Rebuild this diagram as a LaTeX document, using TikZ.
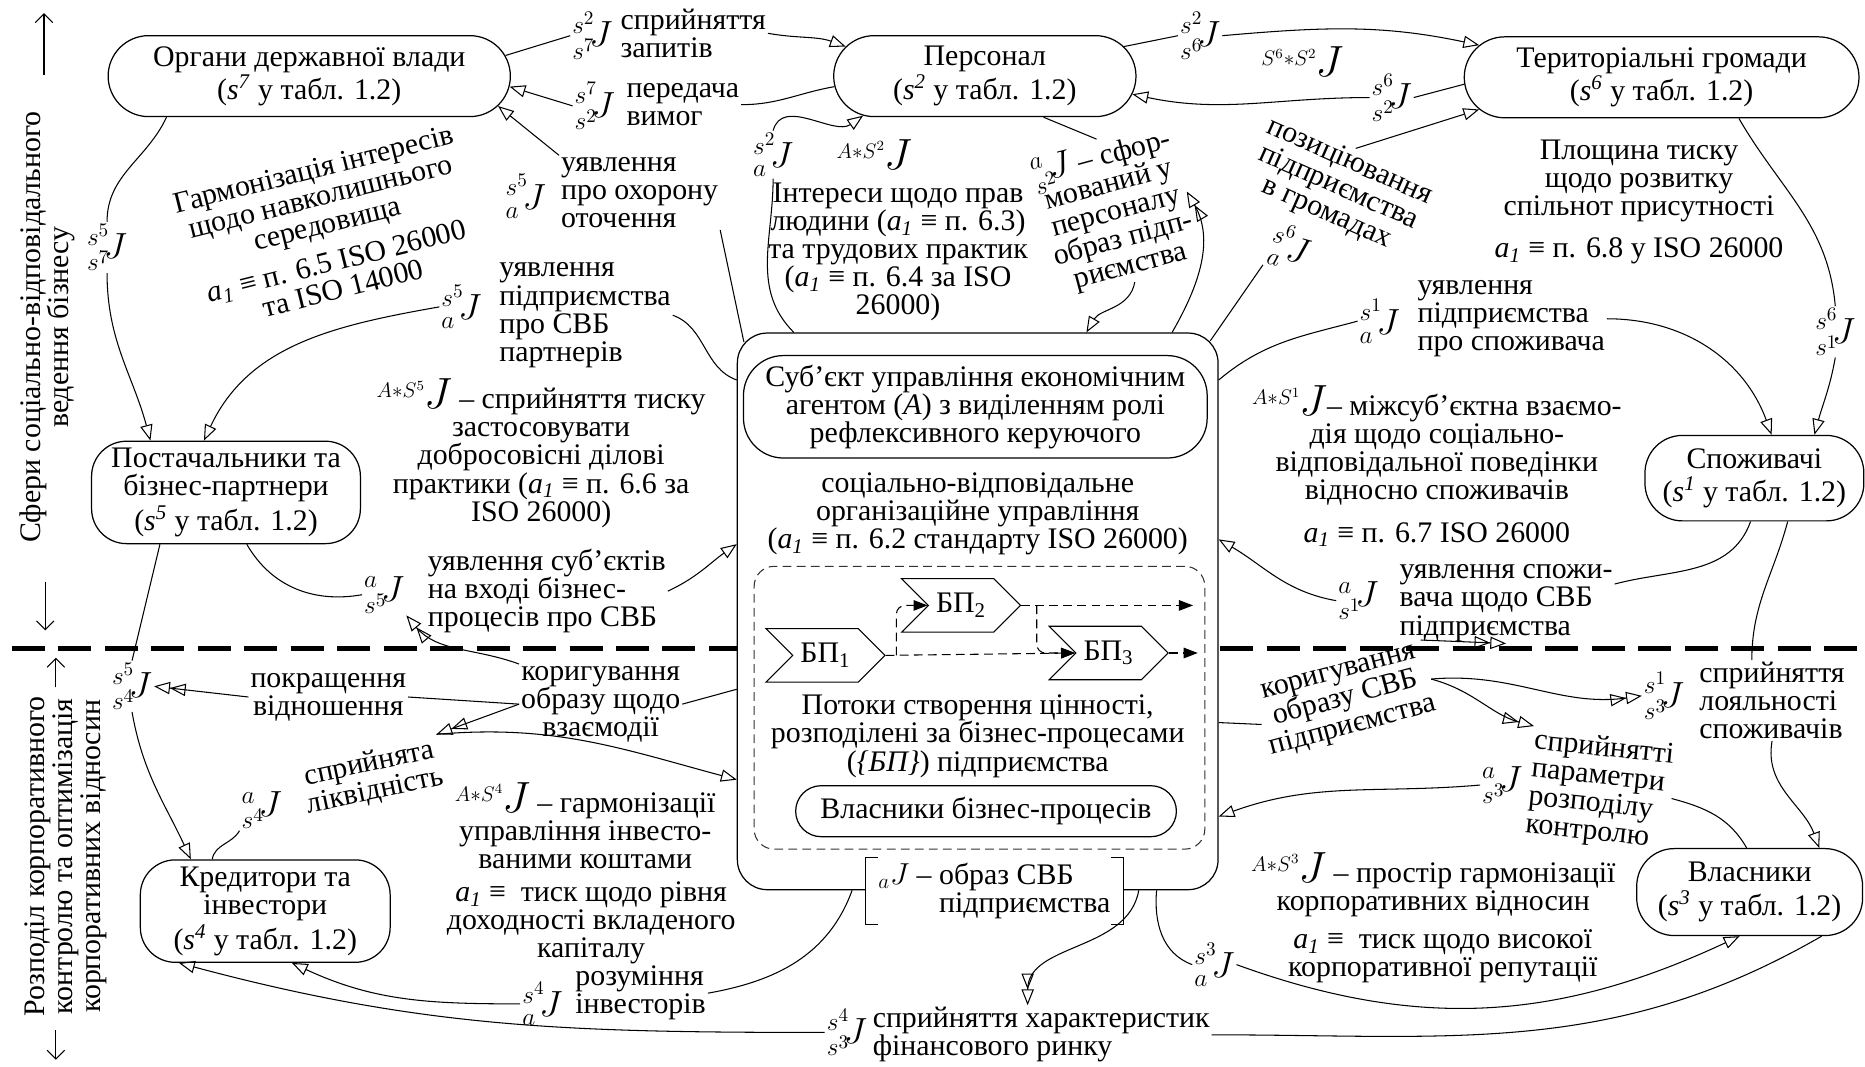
\documentclass[tikz,border=0pt]{standalone}
\usepackage{amsmath}
\usepackage{fontspec}
\setmainfont{Liberation Serif}
\usetikzlibrary{arrows.meta,positioning,calc,shapes.misc,shapes.symbols}
\newcommand{\fnt}{\fontsize{17}{16}\selectfont\lineskiplimit=-20pt}
\newcommand{\Jm}[2]{{\fontsize{21}{21}\selectfont${}^{#1}_{#2}\!J$}}
\newcommand{\Ja}[1]{$^{A\ast S^{#1}}$\kern-1pt{\fontsize{24}{20}\selectfont$J$}}
\newcommand{\sv}[1]{\textit{s}\textsuperscript{\textit{#1}}}
\newcommand{\aone}{\textit{a}\textsubscript{\textit{1}}}

\begin{document}
\begin{tikzpicture}[x=0.0238cm, y=-0.0238cm, font=\fnt,
    ent/.style={draw, rounded rectangle, align=center, inner sep=2pt, line width=0.7pt},
    ebox/.style={draw, rounded corners=0.7cm, align=center, inner sep=2pt, line width=0.7pt},
    lbl/.style={align=center, inner sep=1pt},
    lbll/.style={align=left, inner sep=1pt},
    conn/.style={line width=0.6pt},
    arr/.style={conn, -{Triangle[open, length=9pt, width=7pt]}},
    darr/.style={conn, -{Triangle[open, length=9pt, width=7pt] Triangle[open, length=9pt, width=7pt]}},
    sidearr/.style={line width=0.6pt, -{Straight Barb[length=5pt, width=10pt]}},
    bp/.style={draw, fill=white, signal, signal from=west, signal to=east, minimum width=2.38cm, minimum height=1.07cm, inner sep=1pt, line width=0.6pt},
    flow/.style={line width=0.6pt, dash pattern=on 5pt off 3pt, rounded corners=5pt, -{Triangle[length=8pt, width=6pt]}}
  ]
  \useasboundingbox (0,0) rectangle (1568,897);

  % separator of the two spheres
  \draw[line width=2.6pt, dash pattern=on 0.66cm off 0.27cm] (10,545) -- (1568,545);

  % side captions
  \node[lbl, rotate=90] (side1) at (40,275) {Сфери соціально-відповідального\\ведення бізнесу};
  \node[lbl, rotate=90] (side2) at (55,720) {Розподіл корпоративного\\контролю та оптимізація\\корпоративних відносин};
  \coordinate (u1a) at (37,63); \coordinate (u1b) at (37,11);
  \coordinate (d1a) at (38,489); \coordinate (d1b) at (38,530);
  \coordinate (u2a) at (47,578); \coordinate (u2b) at (47,553);
  \coordinate (d2a) at (47,866); \coordinate (d2b) at (47,891);
  \draw[sidearr] (u1a) -- (u1b);
  \draw[sidearr] (d1a) -- (d1b);
  \draw[sidearr] (u2a) -- (u2b);
  \draw[sidearr] (d2a) -- (d2b);

  % stakeholders
  \node[ent, minimum width=8.19cm, minimum height=1.62cm] (org) at (260,64) {Органи державної влади\\[3pt](\sv{7} у табл. 1.2)};
  \node[ent, minimum width=6.19cm, minimum height=1.62cm] (pers) at (828,64) {Персонал\\[3pt](\sv{2} у табл. 1.2)};
  \node[ent, minimum width=8.04cm, minimum height=1.62cm] (ter) at (1397,65) {Територіальні громади\\[3pt](\sv{6} у табл. 1.2)};
  \node[ebox, minimum width=5.38cm, minimum height=2.05cm] (post) at (190,414) {Постачальники та\\бізнес-партнери\\[4pt](\sv{5} у табл. 1.2)};
  \node[ebox, minimum width=5.0cm, minimum height=2.05cm] (kred) at (223,766) {Кредитори та\\інвестори\\[4pt](\sv{4} у табл. 1.2)};
  \node[ebox, rounded corners=0.75cm, minimum width=4.38cm, minimum height=1.71cm] (spoz) at (1475,402) {Споживачі\\[3pt](\sv{1} у табл. 1.2)};
  \node[ebox, rounded corners=0.75cm, minimum width=4.52cm, minimum height=1.74cm] (vlas) at (1471,750) {Власники\\[3pt](\sv{3} у табл. 1.2)};

  % management subject
  \node[draw, fill=white, rounded corners=0.6cm, minimum width=9.62cm, minimum height=11.14cm, line width=0.7pt] (subj) at (822,514) {};
  \node[ebox, rounded corners=0.8cm, minimum width=9.28cm, minimum height=2.05cm] (agent) at (820,342) {Суб'єкт управління економічним\\агентом (\textit{A}) з виділенням ролі\\рефлексивного керуючого};
  \node[lbl] (sou) at (822,432) {соціально-відповідальне\\організаційне управління\\(\aone\ ≡ п. 6.2 стандарту ISO 26000)};
  \node[draw, black!80, dash pattern=on 5pt off 3pt, rounded corners=0.4cm, minimum width=9.02cm, minimum height=5.66cm, line width=0.6pt] (flows) at (823.5,595) {};
  \node[bp] (bp1) at (694,551) {БП\textsubscript{1}};
  \node[bp] (bp2) at (808,509) {БП\textsubscript{2}};
  \node[bp] (bp3) at (932,549) {БП\textsubscript{3}};
  \coordinate (out2) at (1003,509);
  \coordinate (out3) at (1007,549);
  \draw[flow] (bp1.east) -- (bp3.west);
  \draw[flow] ($(bp1.east)+(9,0)$) |- (bp2.west);
  \draw[flow] (bp2.east) -- (out2);
  \draw[flow] ($(bp2.east)+(13,0)$) |- (bp3.west);
  \draw[flow] (bp3.east) -- (out3);
  \node[lbl] (pot) at (822,619) {Потоки створення цінності,\\розподілені за бізнес-процесами\\(\textit{\{БП\}}) підприємства};
  \node[ent, minimum width=7.76cm, minimum height=1.02cm] (vbp) at (829,682) {Власники бізнес-процесів};
  \node[fill=white, align=left, inner xsep=7pt, inner ysep=3pt] (obr) at (836,749) {${}_{a}J$ -- образ СВБ\\\hphantom{${}_{a}J$ -- }підприємства};
  \draw[line width=0.6pt] ([xshift=7pt]obr.north west) -- (obr.north west) -- (obr.south west) -- ([xshift=7pt]obr.south west);
  \draw[line width=0.6pt] ([xshift=-7pt]obr.north east) -- (obr.north east) -- (obr.south east) -- ([xshift=-7pt]obr.south east);

  % labels, upper sphere
  \node[lbl] (j1) at (498,30) {\Jm{s^2}{s^7}};
  \node[lbll, anchor=west] (t1) at (520,28) {сприйняття\\запитів};
  \node[lbl] (j2) at (500,89) {\Jm{s^7}{s^2}};
  \node[lbll, anchor=west] (t2) at (525,88) {передача\\вимог};
  \node[lbl] (j3) at (442,165) {\Jm{s^5}{a}};
  \node[lbll, anchor=west] (t3) at (470,162) {уявлення\\про охорону\\оточення};
  \node[lbl, rotate=14] (garm) at (276,192) {Гармонізація інтересів\\щодо навколишнього\\середовища\\[6pt]\aone\ ≡ п. 6.5 ISO 26000\\та ISO 14000};
  \node[lbl] (j4) at (90,208) {\Jm{s^5}{s^7}};
  \node[lbl] (j5) at (388,258) {\Jm{s^5}{a}};
  \node[lbll, anchor=west] (t5) at (418,265) {уявлення\\підприємства\\про СВБ\\партнерів};
  \node[lbl] (t6) at (455,381) {\Ja{5} -- сприйняття тиску\\застосовувати\\добросовісні ділові\\практики (\aone\ ≡ п. 6.6 за\\ISO 26000)};
  \node[lbl] (j7) at (323,500) {\Jm{a}{s^5}};
  \node[lbll, anchor=west] (t7) at (358,497) {уявлення суб'єктів\\на вході бізнес-\\процесів про СВБ};
  \node[lbl] (j8) at (650,130) {\Jm{s^2}{a}};
  \node[lbl] (j9) at (735,130) {\Ja{2}};
  \node[lbl] (t9) at (755,212) {Інтереси щодо прав\\людини (\aone\ ≡ п. 6.3)\\та трудових практик\\(\aone\ ≡ п. 6.4 за ISO\\26000)};
  \node[lbl, rotate=15] (t10) at (938,177) {\Jm{a}{s^2} -- сфор-\\мований у\\персоналу\\образ підп-\\риємства};
  \node[lbl] (j11) at (1009,30) {\Jm{s^2}{s^6}};
  \node[lbl] (j12) at (1095,52) {$^{S^6\ast S^2}$\kern-1pt{\fontsize{24}{20}\selectfont$J$}};
  \node[lbl] (j13) at (1170,82) {\Jm{s^6}{s^2}};
  \node[lbl, rotate=-24] (t14) at (1125,158) {позиціювання\\підприємства\\в громадах};
  \node[lbl, rotate=-15] (j15) at (1085,208) {\Jm{s^6}{a}};
  \node[lbl] (t16) at (1378,170) {Площина тиску\\щодо розвитку\\спільнот присутності\\[8pt]\aone\ ≡ п. 6.8 у ISO 26000};
  \node[lbl] (j17) at (1543,279) {\Jm{s^6}{s^1}};
  \node[lbl] (j18) at (1160,270) {\Jm{s^1}{a}};
  \node[lbll, anchor=west] (t18) at (1190,268) {уявлення\\підприємства\\про споживача};
  \node[lbl] (t19) at (1208,392) {\Ja{1}-- міжсуб'єктна взаємо-\\дія щодо соціально-\\відповідальної поведінки\\відносно споживачів\\[8pt]\aone\ ≡ п. 6.7 ISO 26000};
  \node[lbl] (j20) at (1142,505) {\Jm{a}{s^1}};
  \node[lbll, anchor=west] (t20) at (1175,507) {уявлення спожи-\\вача щодо СВБ\\підприємства};

  % labels, lower sphere
  \node[lbl] (j21) at (1399,585) {\Jm{s^1}{s^3}};
  \node[lbll, anchor=west] (t21) at (1427,589) {сприйняття\\лояльності\\споживачів};
  \node[lbl] (j22) at (111,577) {\Jm{s^5}{s^4}};
  \node[lbl] (t22) at (276,586) {покращення\\відношення};
  \node[lbl] (t23) at (505,592) {коригування\\образу щодо\\взаємодії};
  \node[lbl] (j24) at (220,681) {\Jm{a}{s^4}};
  \node[lbl, rotate=12] (t24) at (313,654) {сприйнята\\ліквідність};
  \node[lbl] (t25) at (492,694) {\Ja{4} -- гармонізації\\управління інвесто-\\ваними коштами};
  \node[lbl] (t26) at (497,776) {\aone\ ≡ \ тиск щодо рівня\\доходності вкладеного\\капіталу};
  \node[lbl] (j27) at (456,844) {\Jm{s^4}{a}};
  \node[lbll, anchor=west] (t27) at (482,835) {розуміння\\інвесторів};
  \node[lbl] (j28) at (712,868) {\Jm{s^4}{s^3}};
  \node[lbll, anchor=west] (t28) at (732,870) {сприйняття характеристик\\фінансового ринку};
  \node[lbl] (j29) at (1021,811) {\Jm{s^3}{a}};
  \node[lbl] (j30) at (1263,660) {\Jm{a}{s^3}};
  \node[lbll, rotate=-6] (t30) at (1345,665) {сприйнятті\\параметри\\розподілу\\контролю};
  \node[lbl, rotate=15] (t31) at (1132,590) {коригування\\образу СВБ\\підприємства};
  \node[lbl] (t32) at (1205,744) {\Ja{3} -- простір гармонізації\\корпоративних відносин};
  \node[lbl] (t33) at (1213,804) {\aone\ ≡ \ тиск щодо високої\\корпоративної репутації};

  % connectors, upper sphere
  \draw[conn] (org.6) -- (j1.west);
  \draw[arr] (t1.east) to[out=-10, in=160] (pers.168);
  \draw[conn] (pers.184) to[out=190, in=0] (t2.east);
  \draw[arr] (j2.west) -- (org.-3);
  \draw[arr] (t3.north west) -- (org.-9);
  \draw[conn] (t3.south east) -- ($(subj.north west)+(6,8)$);
  \draw[conn] ($(org.south)+(-120,0)$) to[out=-115, in=90] (j4.north);
  \draw[arr] (j4.south) to[out=-90, in=105] ($(post.north west)+(50,0)$);
  \draw[conn] ($(subj.north west)+(0,40)$) to[out=160, in=-20] (t5.east);
  \draw[arr] (j5.west) to[out=190, in=65] ($(post.north west)+(95,0)$);
  \draw[conn] ($(post.south west)+(131,0)$) to[out=-60, in=190] (j7.west);
  \draw[arr] (t7.east) to[out=25, in=-145] ($(subj.north west)+(0,178)$);
  \draw[conn] ($(subj.north west)+(48,0)$) to[out=135, in=-90] (j8.south);
  \draw[arr] (j8.north) to[out=75, in=215] (pers.198);
  \draw[conn] (pers.-35) -- (t10.north);
  \draw[arr] (t10.south) to[out=-100, in=60] ($(subj.north west)+(294,0)$);
  \draw[darr] ($(subj.north west)+(366,0)$) to[out=60, in=-60] (t10.east);
  \draw[conn] (pers.12) -- (j11.west);
  \draw[arr] (j11.east) to[out=5, in=168] (ter.170);
  \draw[conn] (ter.182) -- (j13.east);
  \draw[arr] (j13.west) to[out=180, in=-12] (pers.-7);
  \draw[arr] (t14.north) -- (ter.190);
  \draw[conn] ($(subj.north east)+(-7,7)$) -- (j15.south west);
  \draw[conn] (ter.-28) to[out=-60, in=95] (j17.north);
  \draw[arr] (j17.south) to[out=-100, in=75] ($(spoz.north west)+(143,0)$);
  \draw[conn] ($(subj.north east)+(0,40)$) to[out=40, in=195] (j18.west);
  \draw[arr] (t18.east) to[out=0, in=110] ($(spoz.north west)+(107,0)$);
  \draw[conn] (spoz.-95) to[out=-110, in=15] ($(t20.north east)+(0,18)$);
  \draw[arr] (j20.west) to[out=170, in=-30] ($(subj.north east)+(0,174)$);
  \draw[conn] ($(spoz.south)+(28,0)$) to[out=-105, in=90] ($(t21.north)+(-17,0)$);
  \draw[arr] (t21.south) to[out=-100, in=110] ($(vlas.north west)+(154,0)$);

  % connectors, lower sphere
  \draw[conn] ($(post.south west)+(58,0)$) -- (j22.north);
  \draw[arr] (j22.south) to[out=-80, in=115] ($(kred.north west)+(43,0)$);
  \draw[darr] (t22.west) -- (j22.east);
  \draw[conn] (t23.west) -- (t22.east);
  \draw[darr] (t23.north west) to[out=160, in=-50] (j7.south east);
  \draw[darr] (t23.west) -- (t24.north east);
  \draw[conn] (t23.east) -- ($(subj.north west)+(0,300)$);
  \draw[conn] ($(kred.north west)+(61,0)$) to[out=80, in=-120] (j24.south west);
  \draw[arr] (t24.north east) to[out=5, in=165] ($(subj.north west)+(0,376)$);
  \draw[conn] ($(subj.south west)+(97,0)$) to[out=-110, in=10] (t27.east);
  \draw[arr] (j27.west) to[out=180, in=-25] ($(kred.south west)+(128,0)$);
  \draw[arr] (j28.west) to[out=180, in=-15] ($(kred.south west)+(33,0)$);
  \draw[darr] ($(subj.south west)+(338,0)$) to[out=-100, in=90] ($(t28.north west)+(132,0)$);
  \draw[conn] ($(subj.south west)+(353,0)$) to[out=-95, in=160] (j29.west);
  \draw[arr] (j29.east) to[out=-20, in=-155] ($(vlas.south west)+(87,0)$);
  \draw[conn] ($(vlas.south west)+(156,0)$) to[out=-150, in=0] (t28.east);
  \draw[arr] (j30.west) to[out=185, in=20] ($(subj.north east)+(0,407)$);
  \draw[conn] (t30.east) to[out=-15, in=120] ($(vlas.north west)+(93,0)$);
  \draw[conn] (t31.west) -- ($(subj.north east)+(0,328)$);
  \draw[darr] (t31.north east) -- (t20.south);
  \draw[darr] (t31.east) to[out=5, in=188] (j21.west);
  \draw[darr] (t31.east) to[out=-15, in=165] (t30.north west);
\end{tikzpicture}
\end{document}
